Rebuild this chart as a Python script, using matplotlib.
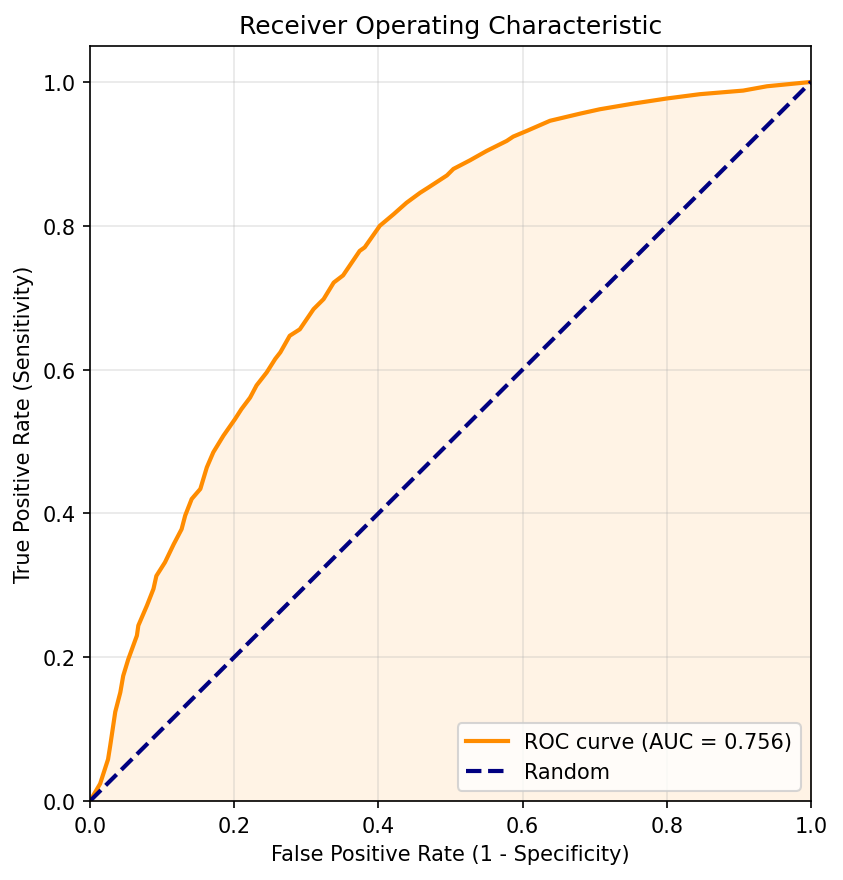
import numpy as np
import matplotlib.pyplot as plt

# ROC curve points
fpr = [0.0, 0.014, 0.025, 0.028, 0.035, 0.042, 0.046, 0.053, 0.065, 0.067,
       0.079, 0.088, 0.092, 0.104, 0.116, 0.127, 0.132, 0.141, 0.153, 0.162,
       0.171, 0.185, 0.201, 0.210, 0.222, 0.231, 0.245, 0.257, 0.264, 0.277,
       0.291, 0.310, 0.324, 0.338, 0.351, 0.374, 0.381, 0.402, 0.421, 0.439,
       0.458, 0.469, 0.495, 0.504, 0.527, 0.550, 0.578, 0.587, 0.606, 0.638,
       0.680, 0.707, 0.754, 0.800, 0.846, 0.906, 0.939, 1.0]
tpr = [0.0, 0.024, 0.058, 0.077, 0.124, 0.151, 0.174, 0.197, 0.230, 0.244,
       0.272, 0.295, 0.313, 0.332, 0.357, 0.378, 0.397, 0.420, 0.434, 0.464,
       0.485, 0.508, 0.531, 0.545, 0.561, 0.578, 0.596, 0.615, 0.624, 0.647,
       0.656, 0.684, 0.698, 0.721, 0.731, 0.765, 0.770, 0.800, 0.816, 0.832,
       0.846, 0.853, 0.870, 0.879, 0.891, 0.904, 0.918, 0.924, 0.932, 0.946,
       0.956, 0.962, 0.970, 0.977, 0.983, 0.988, 0.994, 1.0]
auc_value = 0.756

fig = plt.figure(figsize=(5.62, 5.873), dpi=150)
ax = fig.add_axes([0.1068, 0.0897, 0.962 - 0.1068, 0.9467 - 0.0897])

ax.plot(fpr, tpr, color='darkorange', lw=2, label='ROC curve (AUC = %.3f)' % auc_value)
ax.plot([0, 1], [0, 1], color='navy', lw=2, linestyle='--', label='Random')
ax.fill_between(fpr, tpr, alpha=0.1, color='darkorange')

ax.set_xlim(0.0, 1.0)
ax.set_ylim(0.0, 1.05)
ax.set_xlabel('False Positive Rate (1 - Specificity)')
ax.set_ylabel('True Positive Rate (Sensitivity)')
ax.set_title('Receiver Operating Characteristic')
ax.legend(loc='lower right')
ax.grid(True, alpha=0.3)

fig.savefig('out.png', dpi=150)
